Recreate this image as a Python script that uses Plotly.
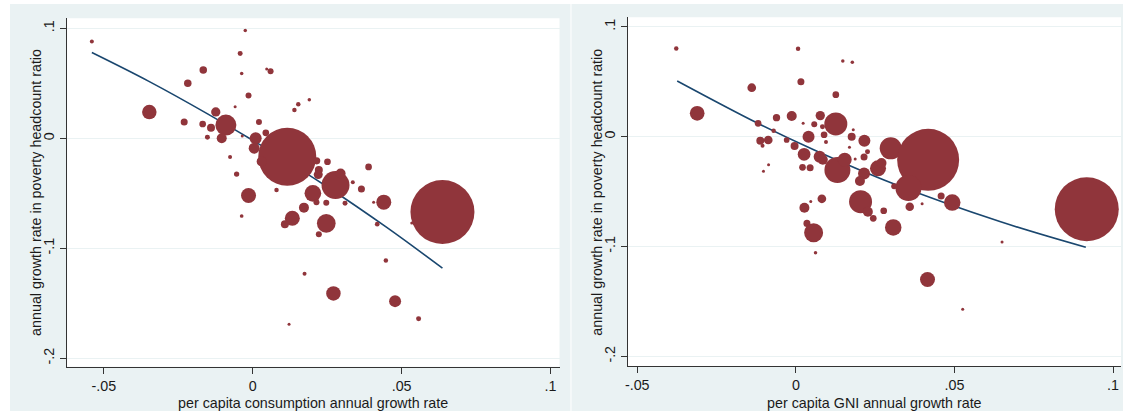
import plotly.graph_objects as go

# ---------------- data ----------------
# Left panel: per capita consumption growth vs poverty headcount growth
cons_x = [-0.054, -0.0025, -0.0042, -0.0166, -0.0037, 0.0047, 0.006, -0.0218, -0.0014, -0.0059,
          0.0153, 0.019, 0.014, -0.0347, -0.0124, -0.023, -0.0168, -0.014, -0.009, -0.0152,
          -0.0104, 0.0021, -0.0035, 0.0044, 0.001, 0.0005, 0.0116, 0.003, -0.0076, -0.0054,
          0.0251, 0.0222, 0.0215, 0.022, 0.0278, 0.0295, 0.0202, 0.0214, 0.0247, 0.0172,
          0.0133, 0.0108, 0.0247, 0.0222, 0.008, -0.0014, -0.0037, 0.0336, 0.0365, 0.0389,
          0.031, 0.044, 0.0406, 0.0418, 0.0637, 0.0534, 0.0447, 0.0174, 0.0271, 0.0478,
          0.0557, 0.0122]
cons_y = [0.088, 0.098, 0.077, 0.062, 0.059, 0.063, 0.061, 0.050, 0.039, 0.0287,
          0.031, 0.035, 0.0257, 0.0239, 0.024, 0.0148, 0.013, 0.0096, 0.012, 0.001,
          0.0, 0.0148, 0.002, 0.005, 0.0, -0.009, -0.0167, -0.021, -0.017, -0.0325,
          -0.0213, -0.0288, -0.0205, -0.033, -0.0425, -0.032, -0.050, -0.058, -0.0585, -0.063,
          -0.0727, -0.078, -0.0773, -0.0873, -0.047, -0.052, -0.0706, -0.040, -0.046, -0.026,
          -0.059, -0.058, -0.058, -0.078, -0.067, -0.077, -0.111, -0.123, -0.141, -0.148,
          -0.164, -0.169]
cons_w = [5.1, 3.9, 7.9, 17.9, 3.9, 2.9, 11.4, 17.9, 11.4, 2.9,
          6.4, 3.9, 6.4, 66.7, 27.5, 15.6, 14.2, 20.3, 140, 7.9,
          31.7, 11.4, 1.3, 14.2, 45.7, 38.4, 1068, 31.7, 5.1, 8.9,
          14.2, 20.3, 15.6, 25.7, 248.8, 31.7, 88.5, 11.4, 11.4, 31.7,
          71.4, 20.3, 111, 11.4, 6.4, 71.4, 4.3, 5.1, 15.6, 14.2,
          7.9, 71.4, 2.0, 7.0, 1300, 2.9, 6.4, 5.1, 66.7, 45.7,
          7.9, 1.3]
cons_fit_x = [-0.054, -0.035, -0.015, 0.005, 0.025, 0.045, 0.0637]
cons_fit_y = [0.078, 0.052, 0.022, -0.010, -0.044, -0.081, -0.118]

# Right panel: per capita GNI growth vs poverty headcount growth
gni_x = [-0.0377, 0.0007, 0.0148, 0.0178, 0.0016, -0.0139, 0.0126, -0.0311, -0.0119, -0.0061,
         -0.0013, 0.0077, 0.0126, 0.0058, 0.0084, 0.0023, -0.007, 0.004, 0.0089, 0.0095,
         0.0176, 0.0181, 0.0216, 0.0169, 0.0226, 0.0215, 0.0299, -0.0112, -0.0087, -0.0105,
         -0.0029, -0.0004, 0.0026, 0.0075, 0.0085, 0.0131, 0.0154, 0.0021, 0.0045, -0.0086,
         -0.0102, 0.0082, 0.0047, 0.0027, 0.0035, 0.0056, 0.0062, 0.0204, 0.0227, 0.0244,
         0.0277, 0.0307, 0.0359, 0.0215, 0.0202, 0.0259, 0.027, 0.0187, 0.0417, 0.0355,
         0.031, 0.0458, 0.0398, 0.0493, 0.065, 0.0917, 0.0415, 0.0526]
gni_y = [0.0804, 0.080, 0.069, 0.0678, 0.050, 0.0446, 0.0383, 0.0213, 0.0122, 0.0173,
         0.0189, 0.0192, 0.0116, 0.0113, 0.009, 0.0122, 0.0055, 0.0, 0.0018, -0.0048,
         0.0, 0.0064, -0.0036, -0.0097, -0.0137, -0.0185, -0.0106, -0.0036, -0.003, -0.0082,
         -0.003, -0.0085, -0.016, -0.0182, -0.021, -0.0303, -0.021, -0.0279, -0.0282, -0.0255,
         -0.0315, -0.0565, -0.0589, -0.0646, -0.0789, -0.0874, -0.1056, -0.0592, -0.0683, -0.0743,
         -0.0674, -0.0826, -0.0638, -0.0334, -0.0403, -0.0288, -0.024, -0.0203, -0.021, -0.0467,
         -0.045, -0.054, -0.061, -0.060, -0.0958, -0.066, -0.130, -0.157]
gni_w = [6.4, 6.4, 3.9, 3.9, 15.6, 24.0, 14.2, 68.6, 14.2, 16.9,
         31.7, 27.5, 167.9, 11.4, 7.9, 1.3, 6.4, 45.7, 14.2, 5.1,
         20.3, 2.9, 45.7, 1.3, 7.9, 15.6, 153.6, 20.3, 24.0, 5.1,
         10.3, 20.3, 51.2, 45.7, 31.7, 214.6, 62.2, 14.2, 15.6, 2.0,
         2.0, 24.0, 2.0, 31.7, 15.6, 114.6, 3.9, 167.9, 31.7, 14.2,
         14.2, 86.4, 22.9, 45.7, 31.7, 81.3, 31.7, 2.0, 1220, 214.6,
         11.4, 15.6, 2.9, 86.4, 2.9, 1300, 71.4, 1.3]
gni_fit_x = [-0.0374, -0.012, 0.0058, 0.0304, 0.0648, 0.0914]
gni_fit_y = [0.0507, 0.0122, -0.0121, -0.0424, -0.0777, -0.1007]

y_ticks = [0.1, 0.0, -0.1, -0.2]
y_ticktext = [".1", "0", "-.1", "-.2"]
x_ticks = [-0.05, 0.0, 0.05, 0.1]
x_ticktext = ["-.05", "0", ".05", ".1"]

x_title_left = "per capita consumption annual growth rate"
x_title_right = "per capita GNI annual growth rate"
y_title = "annual growth rate in poverty headcount ratio"

# ---------------- style ----------------
W, H = 1126, 414
MARKER = "#90353B"
LINE = "#1A476F"
BG = "#EAF2F3"
AXIS = "#333333"
TEXT = "#1a1a1a"
FONT = "Liberation Sans, Arial, sans-serif"
FS = 14.3
MAX_D = 64
sizeref = 2.0 * max(max(cons_w), max(gni_w)) / MAX_D ** 2

def px_x(p):
    return p / W

def px_y(p):
    return 1 - p / H

fig = go.Figure()

fig.add_trace(go.Scatter(x=cons_fit_x, y=cons_fit_y, mode="lines", xaxis="x", yaxis="y",
                         line=dict(color=LINE, width=1.6, shape="spline"), showlegend=False))
fig.add_trace(go.Scatter(x=cons_x, y=cons_y, mode="markers", xaxis="x", yaxis="y",
                         marker=dict(size=cons_w, sizemode="area", sizeref=sizeref, sizemin=1.5,
                                     color=MARKER, opacity=1, line=dict(width=0)),
                         hoverinfo="x+y", showlegend=False))
fig.add_trace(go.Scatter(x=gni_fit_x, y=gni_fit_y, mode="lines", xaxis="x2", yaxis="y2",
                         line=dict(color=LINE, width=1.6, shape="spline"), showlegend=False))
fig.add_trace(go.Scatter(x=gni_x, y=gni_y, mode="markers", xaxis="x2", yaxis="y2",
                         marker=dict(size=gni_w, sizemode="area", sizeref=sizeref, sizemin=1.5,
                                     color=MARKER, opacity=1, line=dict(width=0)),
                         hoverinfo="x+y", showlegend=False))

# plot areas in pixels
L = dict(x0=64.3, x1=558.0, y0=18.3, y1=366.7)
R = dict(x0=626.7, x1=1121.0, y0=17.3, y1=366.3)

common_x = dict(tickvals=x_ticks, ticktext=x_ticktext, showgrid=False, zeroline=False,
                showline=True, linecolor=AXIS, linewidth=1, ticks="outside", ticklen=6,
                tickcolor=AXIS, tickwidth=1, tickfont=dict(family=FONT, size=FS, color=TEXT))
common_y = dict(tickvals=y_ticks, ticktext=y_ticktext, showgrid=True, gridcolor=BG, gridwidth=1,
                zeroline=False, showline=True, linecolor=AXIS, linewidth=1, ticks="outside",
                ticklen=6, tickcolor=AXIS, tickwidth=1, tickangle=-90,
                tickfont=dict(family=FONT, size=FS, color=TEXT))

fig.update_layout(
    width=W, height=H, margin=dict(l=0, r=0, t=0, b=0),
    paper_bgcolor="white", plot_bgcolor="rgba(0,0,0,0)",
    font=dict(family=FONT, size=FS, color=TEXT),
    xaxis=dict(domain=[px_x(L["x0"]), px_x(L["x1"])], range=[-0.0623, 0.1030], anchor="y", **common_x),
    yaxis=dict(domain=[px_y(L["y1"]), px_y(L["y0"])], range=[-0.2076, 0.1091], anchor="x", **common_y),
    xaxis2=dict(domain=[px_x(R["x0"]), px_x(R["x1"])], range=[-0.0529, 0.1025], anchor="y2", **common_x),
    yaxis2=dict(domain=[px_y(R["y1"]), px_y(R["y0"])], range=[-0.2090, 0.1087], anchor="x2", **common_y),
    showlegend=False,
)

shapes = []
# panel backgrounds
for (a, b) in [(7, 569), (570, 1123)]:
    shapes.append(dict(type="rect", xref="paper", yref="paper", layer="below",
                       x0=px_x(a), x1=px_x(b), y0=px_y(411), y1=px_y(4),
                       fillcolor=BG, line=dict(width=0)))
# white plot areas
for P in (L, R):
    shapes.append(dict(type="rect", xref="paper", yref="paper", layer="below",
                       x0=px_x(P["x0"]), x1=px_x(P["x1"]), y0=px_y(P["y1"]), y1=px_y(P["y0"]),
                       fillcolor="white", line=dict(width=0)))
fig.update_layout(shapes=shapes)

ann = []
for P, t in ((L, x_title_left), (R, x_title_right)):
    ann.append(dict(text=t, xref="paper", yref="paper", x=px_x((P["x0"] + P["x1"]) / 2), y=px_y(402.5),
                    xanchor="center", yanchor="middle", showarrow=False,
                    font=dict(family=FONT, size=FS, color=TEXT)))
for xc, P in ((32.5, L), (595.5, R)):
    ann.append(dict(text=y_title, xref="paper", yref="paper", x=px_x(xc), y=px_y((P["y0"] + P["y1"]) / 2),
                    xanchor="center", yanchor="middle", textangle=-90, showarrow=False,
                    font=dict(family=FONT, size=FS, color=TEXT)))
fig.update_layout(annotations=ann)

# remove the default page margin so the 1126x414 figure fills the window exactly
fig.write_html("out.html", config={"displayModeBar": False},
               post_script="document.body.style.margin='0';document.body.style.overflow='hidden';")
